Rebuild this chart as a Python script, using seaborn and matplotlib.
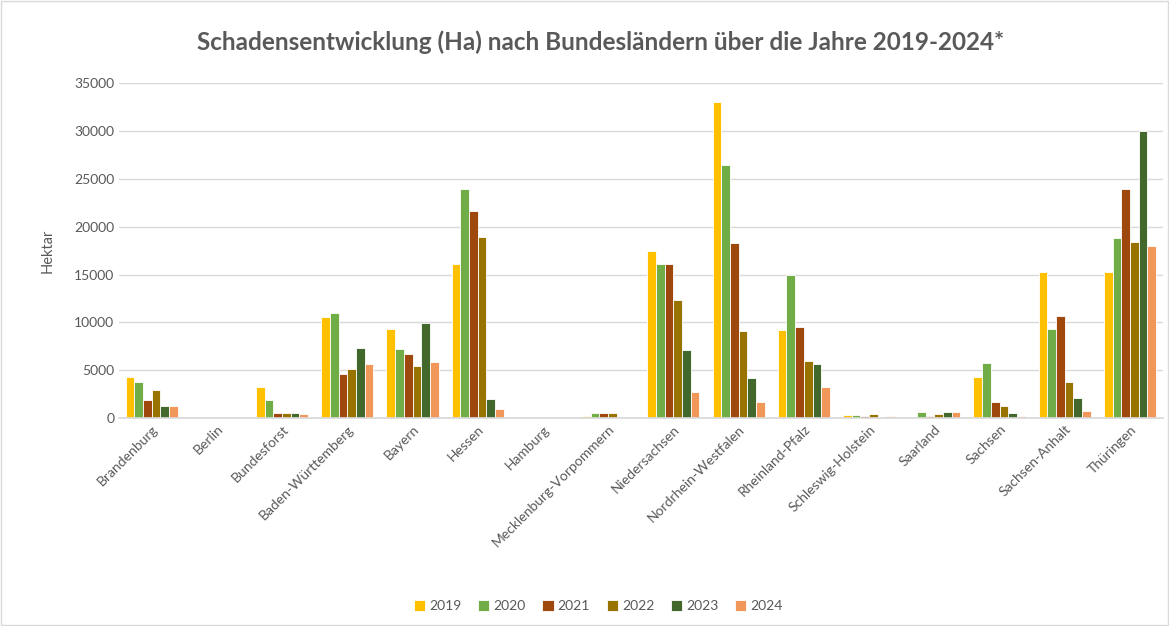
import pandas as pd
import seaborn as sns
import matplotlib.pyplot as plt
from matplotlib.patches import Rectangle

laender = ['Brandenburg', 'Berlin', 'Bundesforst', 'Baden-Württemberg', 'Bayern', 'Hessen',
           'Hamburg', 'Mecklenburg-Vorpommern', 'Niedersachsen', 'Nordrhein-Westfalen',
           'Rheinland-Pfalz', 'Schleswig-Holstein', 'Saarland', 'Sachsen', 'Sachsen-Anhalt',
           'Thüringen']
jahre = ['2019', '2020', '2021', '2022', '2023', '2024']

v2019 = [4280, 0, 3270, 10600, 9300, 16090, 0, 180, 17450, 33020, 9200, 340, 130, 4280, 15250, 15250]
v2020 = [3830, 0, 1880, 10970, 7210, 23900, 0, 490, 16090, 26500, 14980, 340, 630, 5780, 9270, 18880]
v2021 = [1880, 0, 560, 4630, 6720, 21700, 0, 500, 16160, 18320, 9480, 270, 180, 1640, 10630, 23900]
v2022 = [2960, 0, 490, 5110, 5400, 18900, 0, 500, 12300, 9090, 5960, 440, 450, 1220, 3730, 18460]
v2023 = [1250, 0, 590, 7350, 9930, 2000, 0, 0, 7100, 4150, 5710, 0, 630, 490, 2060, 29990]
v2024 = [1250, 0, 450, 5710, 5850, 1000, 0, 0, 2690, 1700, 3270, 270, 630, 210, 730, 17970]

farben = ['#FFC000', '#70AD47', '#9E480E', '#997300', '#43682B', '#F1975A']

rows = []
for jahr, werte in zip(jahre, [v2019, v2020, v2021, v2022, v2023, v2024]):
    for land, w in zip(laender, werte):
        rows.append({'Land': land, 'Jahr': jahr, 'Hektar': w})
df = pd.DataFrame(rows)

sns.set_theme(style="white")
plt.rcParams['font.family'] = ['Lato', 'DejaVu Sans']
grau = '#595959'

fig = plt.figure(figsize=(11.69, 6.26), dpi=100)
ax = fig.add_axes([0.1018, 0.332, 0.8927, 0.535])
sns.barplot(data=df, x='Land', y='Hektar', hue='Jahr', palette=farben, width=0.8,
            saturation=1, edgecolor='white', linewidth=0.6, ax=ax, legend=True)

ax.set_ylim(0, 35000)
ax.set_yticks(range(0, 35001, 5000))
ax.yaxis.grid(True, color='#D9D9D9', linewidth=1)
ax.set_axisbelow(True)
for s in ['top', 'right', 'left']:
    ax.spines[s].set_visible(False)
ax.spines['bottom'].set_color('#D9D9D9')
ax.tick_params(axis='both', colors=grau, labelsize=10, length=0)
plt.setp(ax.get_xticklabels(), rotation=45, ha='right', rotation_mode='anchor')
ax.set_xlabel('')
ax.set_ylabel('Hektar', color=grau, fontsize=10.5, labelpad=14)

fig.text(0.514, 0.933, 'Schadensentwicklung (Ha) nach Bundesländern über die Jahre 2019-2024*',
         ha='center', va='center', fontsize=17.5, fontweight='bold', color=grau)

ax.legend(loc='center', bbox_to_anchor=(0.512, 0.032), bbox_transform=fig.transFigure,
          ncol=6, frameon=False, fontsize=10, labelcolor=grau, handlelength=0.8,
          handleheight=0.8, handletextpad=0.3, columnspacing=1.2)

fig.patches.append(Rectangle((0.001, 0.001), 0.998, 0.998, transform=fig.transFigure,
                             fill=False, edgecolor='#D9D9D9', linewidth=1))

plt.savefig('out.png', dpi=100)
